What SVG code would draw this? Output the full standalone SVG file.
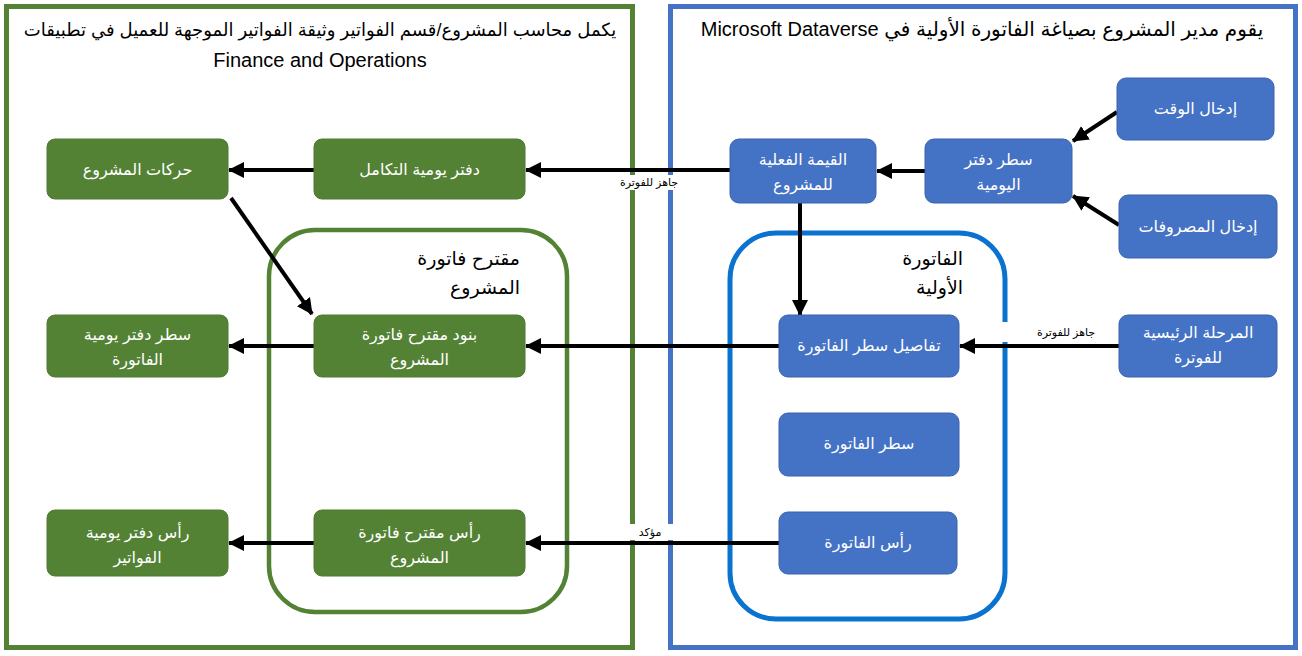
<svg xmlns="http://www.w3.org/2000/svg" width="1302" height="656" viewBox="0 0 1302 656">
<style>
.frameG{fill:none;stroke:#548235;stroke-width:5}
.frameB{fill:none;stroke:#4472C4;stroke-width:5}
.contG{fill:none;stroke:#548235;stroke-width:4.5}
.contB{fill:none;stroke:#0A73D0;stroke-width:5}
.g{fill:#548235;stroke:#4E7A30;stroke-width:1}
.b{fill:#4472C4;stroke:#3A62AC;stroke-width:1}
.nt{font-family:"Liberation Sans","DejaVu Sans",sans-serif;font-size:16px;fill:#ffffff;text-anchor:middle;direction:rtl}
.title{font-family:"Liberation Sans","DejaVu Sans",sans-serif;font-size:20px;fill:#000000;text-anchor:middle;direction:rtl}
.ct{font-family:"Liberation Sans","DejaVu Sans",sans-serif;font-size:19px;fill:#000000;text-anchor:start;direction:rtl}
.lbl{font-family:"Liberation Sans","DejaVu Sans",sans-serif;font-size:11px;fill:#000000;text-anchor:middle;direction:rtl}
.c{stroke:#000000;stroke-width:4;fill:none;marker-end:url(#ah)}
</style>
<defs>
<marker id="ah" viewBox="0 0 16 16" refX="15" refY="8" markerWidth="16" markerHeight="16" markerUnits="userSpaceOnUse" orient="auto">
<path d="M0,0 L16,8 L0,16 z" fill="#000000"/>
</marker>
</defs>
<rect x="0" y="0" width="1302" height="656" fill="#ffffff"/>

<g id="frame-fo">
<rect class="frameG" x="6.5" y="6.5" width="626" height="641"/>
<text class="title" x="320" y="36" style="font-size:18px">يكمل محاسب المشروع/قسم الفواتير وثيقة الفواتير الموجهة للعميل في تطبيقات</text>
<text class="title" x="320" y="67" style="direction:ltr">Finance and Operations</text>
</g>
<g id="frame-dv">
<rect class="frameB" x="670.5" y="6.5" width="625" height="641"/>
<text class="title" x="982" y="36">يقوم مدير المشروع بصياغة الفاتورة الأولية في Microsoft Dataverse</text>
</g>

<g id="container-proposal">
<rect class="contG" x="269" y="230" width="298" height="382" rx="46"/>
<text class="ct" x="520" y="265">مقترح فاتورة</text>
<text class="ct" x="520" y="294">المشروع</text>
</g>
<g id="container-proforma">
<rect class="contB" x="730" y="233" width="275" height="386" rx="46"/>
<text class="ct" x="963" y="265">الفاتورة</text>
<text class="ct" x="963" y="294">الأولية</text>
</g>

<g id="connectors">
<line class="c" x1="730" y1="170" x2="526" y2="170"/>
<line class="c" x1="314" y1="170" x2="229" y2="170"/>
<line class="c" x1="925" y1="171" x2="877" y2="171"/>
<line class="c" x1="1117" y1="112" x2="1073" y2="141"/>
<line class="c" x1="1119" y1="225" x2="1073" y2="196"/>
<line class="c" x1="800" y1="203" x2="800" y2="315"/>
<line class="c" x1="1119" y1="346" x2="960" y2="346"/>
<line class="c" x1="779" y1="346" x2="526" y2="346"/>
<line class="c" x1="314" y1="346" x2="229" y2="346"/>
<line class="c" x1="231" y1="198" x2="312" y2="314"/>
<line class="c" x1="779" y1="543" x2="526" y2="543"/>
<line class="c" x1="314" y1="543" x2="229" y2="543"/>
<rect x="618" y="175" width="64" height="15" fill="#ffffff"/>
<text class="lbl" x="649" y="186">جاهز للفوترة</text>
<rect x="1000" y="322" width="100" height="20" fill="#ffffff"/>
<text class="lbl" x="1066" y="336">جاهز للفوترة</text>
<rect x="624" y="524" width="56" height="16" fill="#ffffff"/>
<text class="lbl" x="650" y="536">مؤكد</text>
</g>

<g id="n-project-transactions">
<rect class="g" x="47" y="139" width="181" height="60" rx="8"/>
<text class="nt" x="137.5" y="175">حركات المشروع</text>
</g>
<g id="n-integration-journal">
<rect class="g" x="314" y="139" width="211" height="60" rx="8"/>
<text class="nt" x="419.5" y="175">دفتر يومية التكامل</text>
</g>
<g id="n-invoice-journal-line">
<rect class="g" x="47" y="315" width="181" height="62" rx="8"/>
<text class="nt" x="137.5"><tspan x="137.5" y="340">سطر دفتر يومية</tspan><tspan x="137.5" y="365">الفاتورة</tspan></text>
</g>
<g id="n-proposal-lines">
<rect class="g" x="314" y="315" width="211" height="62" rx="8"/>
<text class="nt" x="419.5"><tspan x="419.5" y="340">بنود مقترح فاتورة</tspan><tspan x="419.5" y="365">المشروع</tspan></text>
</g>
<g id="n-invoice-journal-header">
<rect class="g" x="47" y="510" width="181" height="66" rx="8"/>
<text class="nt" x="137.5"><tspan x="137.5" y="538">رأس دفتر يومية</tspan><tspan x="137.5" y="563">الفواتير</tspan></text>
</g>
<g id="n-proposal-header">
<rect class="g" x="314" y="510" width="211" height="66" rx="8"/>
<text class="nt" x="419.5"><tspan x="419.5" y="538">رأس مقترح فاتورة</tspan><tspan x="419.5" y="563">المشروع</tspan></text>
</g>

<g id="n-time-entry">
<rect class="b" x="1117" y="78" width="157" height="62" rx="9"/>
<text class="nt" x="1195.5" y="114">إدخال الوقت</text>
</g>
<g id="n-journal-line">
<rect class="b" x="925" y="139" width="147" height="64" rx="9"/>
<text class="nt" x="998.5"><tspan x="998.5" y="165">سطر دفتر</tspan><tspan x="998.5" y="190">اليومية</tspan></text>
</g>
<g id="n-project-actual">
<rect class="b" x="730" y="139" width="146" height="64" rx="9"/>
<text class="nt" x="803"><tspan x="803" y="165">القيمة الفعلية</tspan><tspan x="803" y="190">للمشروع</tspan></text>
</g>
<g id="n-expense-entry">
<rect class="b" x="1119" y="195" width="158" height="63" rx="9"/>
<text class="nt" x="1198" y="232">إدخال المصروفات</text>
</g>
<g id="n-invoice-line-detail">
<rect class="b" x="779" y="315" width="180" height="62" rx="9"/>
<text class="nt" x="869" y="351">تفاصيل سطر الفاتورة</text>
</g>
<g id="n-billing-milestone">
<rect class="b" x="1119" y="315" width="158" height="62" rx="9"/>
<text class="nt" x="1198"><tspan x="1198" y="338">المرحلة الرئيسية</tspan><tspan x="1198" y="363">للفوترة</tspan></text>
</g>
<g id="n-invoice-line">
<rect class="b" x="779" y="413" width="180" height="63" rx="9"/>
<text class="nt" x="869" y="449">سطر الفاتورة</text>
</g>
<g id="n-invoice-header">
<rect class="b" x="779" y="512" width="178" height="62" rx="9"/>
<text class="nt" x="868" y="548">رأس الفاتورة</text>
</g>
</svg>
